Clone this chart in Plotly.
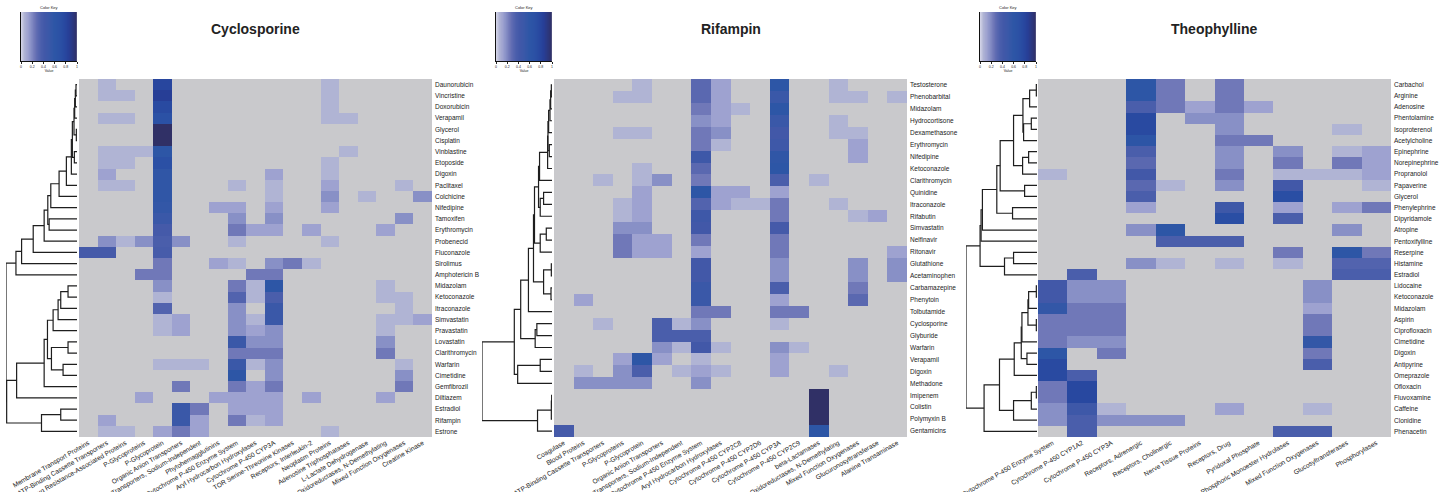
import plotly.graph_objects as go
import numpy as np

W, H = 1446, 492

# ---------------- data ----------------
titles = ["Cyclosporine", "Rifampin", "Theophylline"]

cyclo_rows = ["Daunorubicin", "Vincristine", "Doxorubicin", "Verapamil", "Glycerol", "Cisplatin",
              "Vinblastine", "Etoposide", "Digoxin", "Paclitaxel", "Colchicine", "Nifedipine",
              "Tamoxifen", "Erythromycin", "Probenecid", "Fluconazole", "Sirolimus", "Amphotericin B",
              "Midazolam", "Ketoconazole", "Itraconazole", "Simvastatin", "Pravastatin", "Lovastatin",
              "Clarithromycin", "Warfarin", "Cimetidine", "Gemfibrozil", "Diltiazem", "Estradiol",
              "Rifampin", "Estrone"]
cyclo_cols = ["Membrane Transport Proteins", "ATP-Binding Cassette Transporters",
              "Multidrug Resistance-Associated Proteins", "P-Glycoproteins", "P-Glycoprotein",
              "Organic Anion Transporters", "Organic Anion Transporters, Sodium-Independent",
              "Phytohemagglutinins", "Cytochrome P-450 Enzyme System", "Aryl Hydrocarbon Hydroxylases",
              "Cytochrome P-450 CYP3A", "TOR Serine-Threonine Kinases", "Receptors, Interleukin-2",
              "Neoplasm Proteins", "Adenosine Triphosphatases", "L-Lactate Dehydrogenase",
              "Oxidoreductases, N-Demethylating", "Mixed Function Oxygenases", "Creatine Kinase"]
cyclo_cells = [
    {1: .06, 4: .8, 13: .06},
    {1: .06, 2: .06, 4: .86, 13: .06},
    {4: .76, 13: .06},
    {1: .06, 2: .06, 4: .68, 13: .06, 14: .06},
    {4: 1.0},
    {4: 1.0},
    {1: .06, 2: .06, 3: .06, 4: .6, 14: .06},
    {1: .06, 2: .06, 4: .7, 13: .06},
    {1: .12, 4: .58, 10: .12, 13: .06},
    {1: .06, 2: .06, 4: .58, 8: .06, 10: .06, 13: .12, 17: .06},
    {4: .58, 10: .06, 13: .18, 15: .06, 18: .18},
    {4: .55, 7: .12, 8: .12, 10: .12, 13: .12},
    {4: .5, 8: .18, 10: .18, 17: .18},
    {4: .4, 8: .24, 9: .12, 10: .12, 12: .12, 16: .12},
    {1: .18, 2: .06, 3: .18, 4: .36, 5: .18, 8: .06, 13: .06},
    {0: .4, 1: .4, 4: .38},
    {4: .24, 7: .12, 8: .06, 10: .18, 11: .24, 12: .06},
    {3: .24, 4: .24, 9: .24, 10: .24},
    {4: .18, 8: .24, 9: .06, 10: .6, 16: .06},
    {4: .06, 8: .33, 9: .06, 10: .36, 16: .06, 17: .06},
    {4: .33, 8: .18, 10: .5, 17: .06},
    {4: .06, 5: .12, 8: .18, 9: .06, 10: .5, 16: .06, 17: .06, 18: .12},
    {4: .06, 5: .12, 8: .18, 9: .12, 10: .18, 16: .06},
    {8: .5, 9: .18, 10: .18, 16: .18},
    {8: .24, 9: .24, 10: .24, 16: .24},
    {4: .06, 5: .06, 6: .06, 8: .5, 9: .06, 10: .18, 17: .06},
    {8: .6, 10: .18, 17: .18},
    {5: .24, 8: .24, 9: .12, 10: .24, 17: .24},
    {3: .12, 7: .12, 8: .12, 9: .12, 10: .12, 12: .12, 16: .12},
    {5: .5, 6: .24, 8: .12, 9: .12, 10: .12},
    {1: .12, 5: .5, 6: .12, 8: .24, 9: .06, 10: .12},
    {1: .06, 2: .06, 4: .12, 5: .24, 6: .12, 13: .06},
]
# dendrogram merges: (height, left, right); leaves are row indices
cyclo_tree = (214,
              (184, (167, (132, (99, (88, (79, (54, (32, (17, (14, (9, (7, (5, (3, 0, 1), 2), 3), (2, 4, 5)),
                                                                   (8, 6, 7)), 8), 9), 10), 11), (84, 12, 13)), 14),
                                 15), 16), 17),
              (212, (182, (99, (89, (72, (57, (49, (27, 18, 19), 20), 21), 22),
                                     (77, (27, 23, 24), (42, 25, 26))), 27), 28),
               (107, (49, 29, 30), 31)))

rif_rows = ["Testosterone", "Phenobarbital", "Midazolam", "Hydrocortisone", "Dexamethasone",
            "Erythromycin", "Nifedipine", "Ketoconazole", "Clarithromycin", "Quinidine", "Itraconazole",
            "Rifabutin", "Simvastatin", "Nelfinavir", "Ritonavir", "Glutathione", "Acetaminophen",
            "Carbamazepine", "Phenytoin", "Tolbutamide", "Cyclosporine", "Glyburide", "Warfarin",
            "Verapamil", "Digoxin", "Methadone", "Imipenem", "Colistin", "Polymyxin B", "Gentamicins"]
rif_cols = ["Coagulase", "Blood Proteins", "ATP-Binding Cassette Transporters", "P-Glycoproteins",
            "P-Glycoprotein", "Organic Anion Transporters", "Organic Anion Transporters, Sodium-Independent",
            "Cytochrome P-450 Enzyme System", "Aryl Hydrocarbon Hydroxylases", "Cytochrome P-450 CYP2C8",
            "Cytochrome P-450 CYP2D6", "Cytochrome P-450 CYP3A", "Cytochrome P-450 CYP2C9",
            "beta-Lactamases", "Oxidoreductases, N-Demethylating", "Mixed Function Oxygenases",
            "Glucuronosyltransferase", "Alanine Transaminase"]
rif_cells = [
    {4: .06, 7: .3, 8: .12, 11: .6, 14: .06},
    {3: .06, 4: .06, 7: .3, 8: .12, 11: .5, 14: .06, 15: .06, 17: .06},
    {7: .24, 8: .12, 9: .06, 11: .6},
    {7: .18, 8: .12, 11: .5, 14: .06},
    {3: .06, 4: .06, 7: .24, 8: .18, 11: .42, 14: .06, 15: .06},
    {7: .24, 8: .06, 11: .46, 15: .12},
    {7: .46, 11: .58, 15: .12},
    {4: .06, 7: .3, 11: .6},
    {2: .06, 4: .06, 5: .18, 7: .24, 11: .36, 13: .06},
    {4: .12, 7: .6, 8: .12, 9: .12, 11: .12},
    {3: .06, 4: .12, 7: .33, 8: .12, 9: .06, 10: .06, 11: .24, 14: .06},
    {3: .06, 4: .12, 7: .46, 11: .24, 15: .06, 16: .12},
    {3: .18, 4: .18, 7: .42, 11: .4},
    {3: .24, 4: .12, 5: .12, 7: .24, 11: .24},
    {3: .24, 4: .12, 5: .12, 7: .12, 11: .24, 17: .12},
    {7: .42, 11: .18, 15: .18, 17: .18},
    {7: .42, 11: .18, 15: .18, 17: .18},
    {7: .5, 11: .36, 15: .24},
    {1: .12, 7: .5, 11: .12, 15: .3},
    {7: .24, 8: .24, 11: .24, 12: .24},
    {2: .06, 5: .36, 6: .06, 7: .18, 11: .06},
    {5: .36, 6: .36, 7: .36},
    {5: .18, 6: .06, 7: .42, 8: .06, 11: .18, 12: .06},
    {3: .12, 4: .6, 5: .12, 7: .06, 11: .12},
    {1: .06, 3: .18, 4: .36, 6: .06, 7: .12, 8: .06, 11: .12, 14: .06},
    {1: .18, 2: .18, 3: .18, 4: .18, 7: .18},
    {13: 1.0},
    {13: 1.0},
    {13: 1.0},
    {0: .4, 13: .6},
]
rif_tree = (208,
            (112, (93, (70, (55, (52, (40, (37, (13, (12, (10, (6, (4, (2, 0, 1), 2), 3), 4), (8, 5, 6)), 7), 8),
                                          (35, (25, 9, 10), 11)),
                                     (35, (17, 12, 13), 14)),
                                (25, (2, 15, 16), (3, 17, 18))), 19),
                       (50, (45, 20, 21), 22)),
             (102, (35, 23, 24), 25)),
            (43, (2, (1, 26, 27), 28), 29))

theo_rows = ["Carbachol", "Arginine", "Adenosine", "Phentolamine", "Isoproterenol", "Acetylcholine",
             "Epinephrine", "Norepinephrine", "Propranolol", "Papaverine", "Glycerol", "Phenylephrine",
             "Dipyridamole", "Atropine", "Pentoxifylline", "Reserpine", "Histamine", "Estradiol",
             "Lidocaine", "Ketoconazole", "Midazolam", "Aspirin", "Ciprofloxacin", "Cimetidine", "Digoxin",
             "Antipyrine", "Omeprazole", "Ofloxacin", "Fluvoxamine", "Caffeine", "Clonidine", "Phenacetin"]
theo_cols = ["Cytochrome P-450 Enzyme System", "Cytochrome P-450 CYP1A2", "Cytochrome P-450 CYP3A",
             "Receptors, Adrenergic", "Receptors, Cholinergic", "Nerve Tissue Proteins", "Receptors, Drug",
             "Pyridoxal Phosphate", "Phosphoric Monoester Hydrolases", "Mixed Function Oxygenases",
             "Glucosyltransferases", "Phosphorylases"]
theo_cells = [
    {3: .6, 4: .24, 6: .24},
    {3: .6, 4: .24, 6: .24},
    {3: .36, 4: .24, 5: .12, 6: .24, 7: .12},
    {3: .76, 5: .18, 6: .18},
    {3: .76, 6: .18, 10: .06},
    {3: .62, 6: .24, 7: .24},
    {3: .36, 6: .18, 8: .18, 10: .06, 11: .12},
    {3: .3, 6: .18, 8: .24, 10: .24, 11: .12},
    {0: .06, 3: .42, 6: .24, 8: .06, 9: .06, 10: .06, 11: .12},
    {3: .3, 4: .06, 6: .18, 8: .42, 11: .06},
    {3: .36, 8: .72},
    {3: .12, 6: .46, 8: .12, 10: .12, 11: .24},
    {6: .72, 8: .36},
    {3: .18, 4: .6, 10: .18},
    {4: .36, 5: .36, 6: .36},
    {8: .24, 10: .6, 11: .24},
    {3: .18, 4: .06, 6: .06, 8: .06, 10: .33, 11: .33},
    {1: .36, 10: .36, 11: .36},
    {0: .42, 1: .18, 2: .18, 9: .18},
    {0: .42, 1: .18, 2: .18, 9: .18},
    {0: .55, 1: .24, 2: .24, 9: .12},
    {0: .24, 1: .24, 2: .24, 9: .24},
    {0: .24, 1: .24, 2: .24, 9: .24},
    {0: .24, 1: .18, 2: .18, 9: .55},
    {0: .6, 2: .24, 9: .24},
    {0: .76, 9: .36},
    {0: .76, 1: .36},
    {0: .24, 1: .78},
    {0: .24, 1: .78},
    {0: .18, 1: .46, 2: .06, 6: .12, 9: .06},
    {0: .18, 1: .36, 2: .18, 3: .18, 4: .18},
    {1: .36, 8: .36, 9: .36},
]
theo_tree = (212,
             (170, (167, (163, (120, (110, (70, (42, (22, (2, 0, 1), 2), (40, (17, 3, 4), 5)),
                                                (43, (25, 6, 7), 8)),
                                           (37, 9, 10)),
                                      (73, 11, 12)), 13), 14),
              (97, (70, 15, 16), 17)),
             (158, (112, (68, (47, (45, (27, (25, (2, 18, 19), 20), (2, 21, 22)), 23), (30, 24, 25)), 26),
                         (70, (17, (2, 27, 28), 29), 30)), 31))

key_ticks = [0, 0.2, 0.4, 0.6, 0.8, 1]

# ---------------- style / layout ----------------
colorscale = [[0.00, '#d6d7e9'], [0.06, '#b0b4d4'], [0.12, '#9ea2d0'], [0.18, '#8890c6'],
              [0.24, '#7078b8'], [0.30, '#5a68b0'], [0.36, '#4a5eab'], [0.42, '#4258a8'],
              [0.50, '#3a58a8'], [0.60, '#2d56a6'], [0.70, '#2b50a5'], [0.78, '#2848a0'],
              [0.86, '#273e96'], [1.00, '#303066']]
GRAY = '#c9c9cc'
FONT = "Liberation Sans, Arial, sans-serif"

panels = [
    dict(title=titles[0], rows=cyclo_rows, cols=cyclo_cols, cells=cyclo_cells, tree=cyclo_tree,
         heat_x=(79, 432), dend_x=(6, 77), key_x=(21, 77)),
    dict(title=titles[1], rows=rif_rows, cols=rif_cols, cells=rif_cells, tree=rif_tree,
         heat_x=(554, 907), dend_x=(482, 552), key_x=(496, 552)),
    dict(title=titles[2], rows=theo_rows, cols=theo_cols, cells=theo_cells, tree=theo_tree,
         heat_x=(1038, 1391), dend_x=(966, 1037), key_x=(980, 1036)),
]
HEAT_Y = (79, 437)
KEY_Y = (12, 61)


def px_x(a, b):
    return [a / W, b / W]


def px_y(top, bottom):
    return [1 - bottom / H, 1 - top / H]


def dendro_lines(tree):
    xs, ys = [], []

    def walk(node):
        if isinstance(node, int):
            return 0.0, float(node)
        h, a, b = node
        ha, ya = walk(a)
        hb, yb = walk(b)
        xs.extend([ha, h, h, hb, None])
        ys.extend([ya, ya, yb, yb, None])
        return h, (ya + yb) / 2

    walk(tree)
    return xs, ys


fig = go.Figure()
layout = dict(width=W, height=H, margin=dict(l=0, r=0, t=0, b=0, pad=0, autoexpand=False),
              paper_bgcolor='white', plot_bgcolor='white', showlegend=False,
              template='none',
              font=dict(family=FONT, color='#222'))
shapes, annotations = [], []

for p, P in enumerate(panels):
    nr, nc = len(P['rows']), len(P['cols'])
    z = [[cells.get(j) for j in range(nc)] for cells in P['cells']]
    hi, di, ki = 3 * p + 1, 3 * p + 2, 3 * p + 3
    hx, hy = f'x{hi}', f'y{hi}'
    dx, dy = f'x{di}', f'y{di}'
    kx, ky = f'x{ki}', f'y{ki}'

    # heatmap
    fig.add_trace(go.Heatmap(z=z, x=list(range(nc)), y=list(range(nr)), colorscale=colorscale,
                             zmin=0, zmax=1, showscale=False, xaxis=hx, yaxis=hy,
                             hoverongaps=False))
    shapes.append(dict(type='rect', xref=hx, yref=hy, x0=-0.5, x1=nc - 0.5, y0=-0.5, y1=nr - 0.5,
                       fillcolor=GRAY, line=dict(width=0), layer='below'))
    layout[f'xaxis{hi}'] = dict(domain=px_x(*P['heat_x']), anchor=hy, range=[-0.5, nc - 0.5],
                                tickmode='array', tickvals=list(range(nc)), ticktext=P['cols'],
                                tickangle=-30, ticks='', showgrid=False, zeroline=False, showline=False,
                                automargin=False,
                                tickfont=dict(size=6.6, color='#222'), fixedrange=True)
    layout[f'yaxis{hi}'] = dict(domain=px_y(*HEAT_Y), anchor=hx, range=[nr - 0.5, -0.5], side='right',
                                tickmode='array', tickvals=list(range(nr)), ticktext=P['rows'],
                                ticks='', showgrid=False, zeroline=False, showline=False,
                                automargin=False, ticklabelstandoff=2,
                                tickfont=dict(size=6.5, color='#222'), fixedrange=True)

    # dendrogram
    xs, ys = dendro_lines(P['tree'])
    fig.add_trace(go.Scatter(x=xs, y=ys, mode='lines', line=dict(color='#1e1e1e', width=1.2),
                             xaxis=dx, yaxis=dy, hoverinfo='skip'))
    root_h = P['tree'][0]
    layout[f'xaxis{di}'] = dict(domain=px_x(*P['dend_x']), anchor=dy, range=[root_h, 0],
                                visible=False, automargin=False, fixedrange=True)
    layout[f'yaxis{di}'] = dict(domain=px_y(*HEAT_Y), anchor=dx, range=[nr - 0.5, -0.5],
                                visible=False, automargin=False, fixedrange=True)

    # color key
    kvals = np.linspace(0, 1, 201)
    fig.add_trace(go.Heatmap(z=[kvals], x=kvals, y=[0], colorscale=colorscale, zmin=0, zmax=1,
                             showscale=False, xaxis=kx, yaxis=ky, hoverinfo='skip'))
    layout[f'xaxis{ki}'] = dict(domain=px_x(*P['key_x']), anchor=ky, range=[0, 1],
                                tickmode='array', tickvals=key_ticks,
                                ticktext=[f'{t:g}' for t in key_ticks],
                                ticks='outside', ticklen=2, tickwidth=0.6, tickcolor='#222',
                                showline=True, linecolor='#111', linewidth=1.2,
                                tickfont=dict(size=3.5, color='#222'),
                                title=dict(text='Value', font=dict(size=3.5, color='#222'), standoff=1),
                                showgrid=False, zeroline=False, automargin=False, fixedrange=True)
    layout[f'yaxis{ki}'] = dict(domain=px_y(*KEY_Y), anchor=kx, range=[-0.5, 0.5],
                                showline=True, linecolor='#111', linewidth=1.2,
                                showticklabels=False, ticks='', showgrid=False, zeroline=False,
                                automargin=False, fixedrange=True)
    k0, k1 = P['key_x']
    annotations.append(dict(text='Color Key', x=(k0 + k1) / 2 / W, y=1 - 8 / H, xref='paper', yref='paper',
                            showarrow=False, font=dict(size=4, color='#222'), xanchor='center',
                            yanchor='middle'))

    # title
    h0, h1 = P['heat_x']
    annotations.append(dict(text=f"<b>{P['title']}</b>", x=(h0 + h1) / 2 / W, y=1 - 29 / H,
                            xref='paper', yref='paper', showarrow=False,
                            font=dict(size=14, color='#222', family=FONT),
                            xanchor='center', yanchor='middle'))

layout['shapes'] = shapes
layout['annotations'] = annotations
fig.update_layout(**layout)
fig.write_html("out.html", config={'displayModeBar': False},
               post_script="document.body.style.margin='0';document.body.style.overflow='hidden';")
